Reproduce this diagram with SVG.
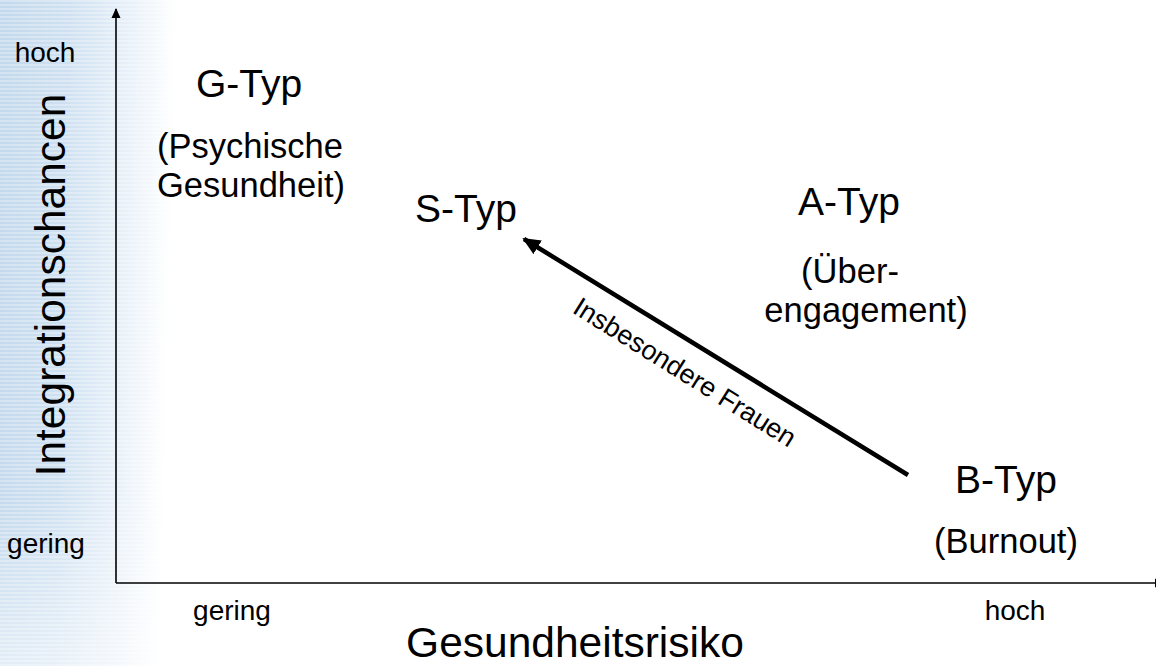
<svg xmlns="http://www.w3.org/2000/svg" width="1156" height="666" viewBox="0 0 1156 666">
  <defs>
    <linearGradient id="bg" x1="0" y1="0" x2="1" y2="0.1">
      <stop offset="0" stop-color="#c2d8ec"/>
      <stop offset="0.4" stop-color="#cfe1f1"/>
      <stop offset="0.75" stop-color="#e9f1f9"/>
      <stop offset="1" stop-color="#ffffff"/>
    </linearGradient>
    <linearGradient id="fadeDown" x1="0" y1="0" x2="0" y2="1">
      <stop offset="0" stop-color="#ffffff" stop-opacity="0"/>
      <stop offset="0.75" stop-color="#ffffff" stop-opacity="0"/>
      <stop offset="1" stop-color="#ffffff" stop-opacity="0.5"/>
    </linearGradient>
    <pattern id="stripes" width="8" height="4" patternUnits="userSpaceOnUse">
      <rect width="8" height="2" fill="#ffffff" opacity="0.3"/>
    </pattern>
    <marker id="axisHead" markerWidth="10" markerHeight="10" refX="9" refY="5" orient="auto" markerUnits="userSpaceOnUse">
      <path d="M0,0.5 L10,5 L0,9.5 Z" fill="#000"/>
    </marker>
    <marker id="bigHead" markerWidth="18" markerHeight="16" refX="16" refY="8" orient="auto" markerUnits="userSpaceOnUse">
      <path d="M0,0 L18,8 L0,16 Z" fill="#000"/>
    </marker>
  </defs>
  <style>
    text { font-family: "Liberation Sans", Arial, sans-serif; fill: #000; }
    .typ { font-size: 39px; text-anchor: middle; }
    .sub { font-size: 34.5px; text-anchor: middle; }
    .small { font-size: 28px; text-anchor: middle; }
    .note { font-size: 27px; text-anchor: middle; }
    .axisTitle { font-size: 42.5px; text-anchor: middle; }
    .axis { stroke: #000; stroke-width: 1.6; fill: none; }
    .flow { stroke: #000; stroke-width: 4.5; fill: none; }
  </style>

  <rect width="1156" height="666" fill="#ffffff"/>
  <rect x="0" y="0" width="175" height="666" fill="url(#bg)"/>
  <rect x="0" y="0" width="175" height="666" fill="url(#stripes)"/>
  <rect x="0" y="0" width="175" height="666" fill="url(#fadeDown)"/>

  <g id="axes">
    <line class="axis" x1="116" y1="583" x2="116" y2="9" marker-end="url(#axisHead)"/>
    <line class="axis" x1="116" y1="583" x2="1164" y2="583" marker-end="url(#axisHead)"/>
  </g>

  <g id="axis-labels">
    <text class="small" x="45" y="62">hoch</text>
    <text class="small" x="46" y="553">gering</text>
    <text class="small" x="232" y="620">gering</text>
    <text class="small" x="1015" y="620">hoch</text>
    <text class="axisTitle" transform="translate(65,285) rotate(-90)">Integrationschancen</text>
    <text class="axisTitle" x="575" y="657">Gesundheitsrisiko</text>
  </g>

  <g id="node-g">
    <text class="typ" x="249" y="97">G-Typ</text>
    <text class="sub" x="250" y="158">(Psychische</text>
    <text class="sub" x="251" y="197">Gesundheit)</text>
  </g>

  <g id="node-s">
    <text class="typ" x="466" y="222">S-Typ</text>
  </g>

  <g id="node-a">
    <text class="typ" x="849" y="215">A-Typ</text>
    <text class="sub" x="850" y="283">(Über-</text>
    <text class="sub" x="866" y="322">engagement)</text>
  </g>

  <g id="node-b">
    <text class="typ" x="1006" y="493">B-Typ</text>
    <text class="sub" x="1006" y="553">(Burnout)</text>
  </g>

  <g id="connectors">
    <line class="flow" x1="908" y1="475" x2="524" y2="239" marker-end="url(#bigHead)"/>
    <text class="note" transform="translate(680,380) rotate(32)">Insbesondere Frauen</text>
  </g>
</svg>
